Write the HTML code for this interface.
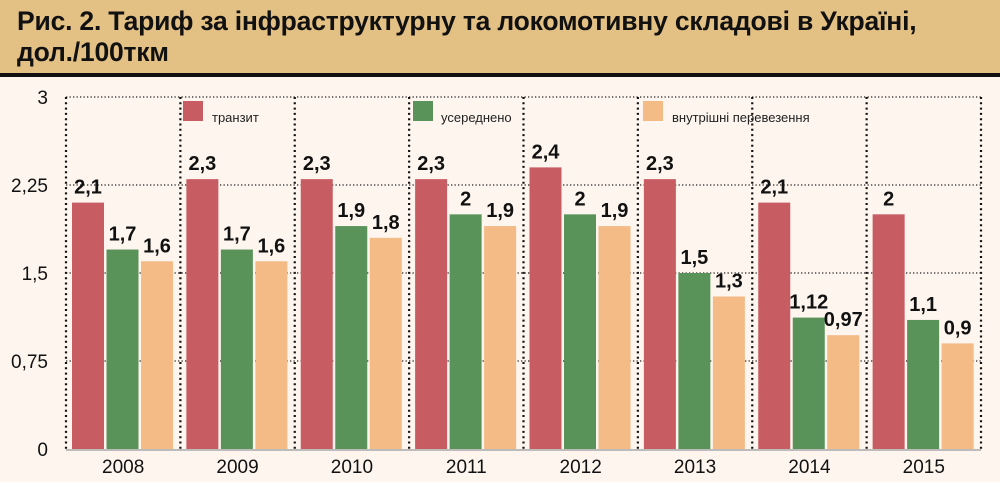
<!DOCTYPE html>
<html><head><meta charset="utf-8">
<style>
body{margin:0;width:1000px;height:482px;background:#fdf5ee;overflow:hidden;font-family:"Liberation Sans","DejaVu Sans",sans-serif}
#title{position:absolute;left:0;top:0;width:1000px;height:73px;background:#e3c084;border-bottom:4px solid #111}
#title div{position:absolute;left:17px;top:6px;font-size:26.5px;font-weight:bold;line-height:31px;color:#111;letter-spacing:-0.2px}
</style></head><body>
<div id="title"><div>Рис. 2. Тариф за інфраструктурну та локомотивну складові в Україні,<br>дол./100ткм</div></div>
<svg id="chart" width="1000" height="482" style="position:absolute;left:0;top:0"></svg>
<script>
const years=["2008","2009","2010","2011","2012","2013","2014","2015"];
const transit=[2.1,2.3,2.3,2.3,2.4,2.3,2.1,2.0];
const avg=[1.7,1.7,1.9,2.0,2.0,1.5,1.12,1.1];
const domestic=[1.6,1.6,1.8,1.9,1.9,1.3,0.97,0.9];
const transitLabels=["2,1","2,3","2,3","2,3","2,4","2,3","2,1","2"];
const avgLabels=["1,7","1,7","1,9","2","2","1,5","1,12","1,1"];
const domLabels=["1,6","1,6","1,8","1,9","1,9","1,3","0,97","0,9"];
const ticks=[0,0.75,1.5,2.25,3];
const tickLabels=["0","0,75","1,5","2,25","3"];
const seriesNames=["транзит","усереднено","внутрішні перевезення"];
const NS="http://www.w3.org/2000/svg",svg=document.getElementById('chart');
const x0=66,x1=981,y0=449,y3=97,gw=(x1-x0)/years.length;
const y=v=>y0-(v/3)*(y0-y3);
function mk(t,a,p){const e=document.createElementNS(NS,t);for(const k in a)e.setAttribute(k,a[k]);(p||svg).appendChild(e);return e;}
ticks.forEach((t,i)=>{
 if(t>0){const l=mk('line',{x1:x0,x2:x1,y1:y(t),y2:y(t),stroke:'#222','stroke-width':1.3,'stroke-dasharray':'1.3 2.2'});
 }
 const tx=mk('text',{x:48,y:y(t)+7,'text-anchor':'end','font-size':19,'fill':'#111'});tx.textContent=tickLabels[i];
 
});
for(let i=0;i<=years.length;i++){const xx=x0+i*gw;
 const l=mk('line',{x1:xx,x2:xx,y1:y3,y2:y0,stroke:'#111','stroke-width':2.2,'stroke-dasharray':'2 3.3'});
 }
const ax=mk('line',{x1:x0,x2:x1,y1:y0+1,y2:y0+1,stroke:'#aaa','stroke-width':1.5});

const series=[[transit,transitLabels,'#c75c63'],[avg,avgLabels,'#5a935a'],[domestic,domLabels,'#f4bb87']];
years.forEach((yr,i)=>{
 const gx=x0+i*gw;
 series.forEach((s,j)=>{
  const bx=gx+6+j*34.5,v=s[0][i];
  const r=mk('rect',{x:bx,y:y(v),width:32,height:y0-y(v),fill:s[2]});
  
  const t=mk('text',{x:bx+16,y:y(v)-9,'text-anchor':'middle','font-size':20,'font-weight':'bold',fill:'#111'});t.textContent=s[1][i];
  
 });
 const t=mk('text',{x:gx+gw/2,y:473,'text-anchor':'middle','font-size':19,fill:'#111'});t.textContent=yr;
 
});
const lx=[183,413,643],tx=[212,441,672];
seriesNames.forEach((n,j)=>{
 const r=mk('rect',{x:lx[j],y:101,width:20,height:20,fill:series[j][2]});
 
 const t=mk('text',{x:tx[j],y:122,'font-size':13,fill:'#222'});t.textContent=n;
 
});
</script>
</body></html>
